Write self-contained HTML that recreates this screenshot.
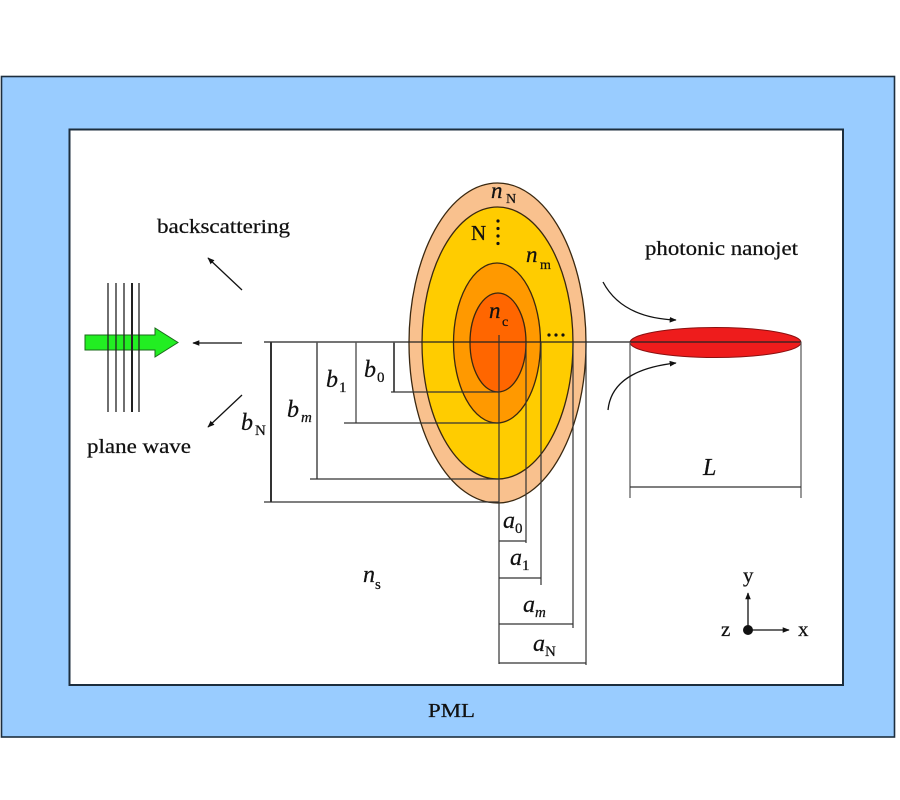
<!DOCTYPE html>
<html><head><meta charset="utf-8"><style>
html,body{margin:0;padding:0;background:#fff;}
svg{display:block;}
text{font-family:"Liberation Serif",serif;fill:#111;stroke:#111;stroke-width:0.25;}
.it{font-style:italic;}
</style></head><body>
<svg width="900" height="800" viewBox="0 0 900 800" xmlns="http://www.w3.org/2000/svg">
<defs>
<marker id="ah" viewBox="0 0 10 10" refX="9" refY="5" markerWidth="7" markerHeight="7" orient="auto-start-reverse" markerUnits="userSpaceOnUse">
<path d="M0,1 L10,5 L0,9 z" fill="#111"/>
</marker>
</defs>
<!-- PML frame -->
<rect x="1.5" y="76.5" width="893" height="660.5" fill="#99CCFF" stroke="#1d2e3e" stroke-width="1.6"/>
<rect x="69.5" y="129.5" width="773.5" height="555.5" fill="#fff" stroke="#1d2e3e" stroke-width="2"/>
<text x="428" y="717" font-size="20" textLength="47" lengthAdjust="spacingAndGlyphs">PML</text>

<!-- ellipses -->
<ellipse cx="497.5" cy="343" rx="88.5" ry="160" fill="#F9C18E" stroke="#3a2810" stroke-width="1.3"/>
<ellipse cx="497.5" cy="343" rx="75.5" ry="136" fill="#FFCC00" stroke="#3a2810" stroke-width="1.3"/>
<ellipse cx="497" cy="343" rx="43.5" ry="80" fill="#FF9900" stroke="#3a2810" stroke-width="1.3"/>
<ellipse cx="498" cy="342.5" rx="28" ry="49.5" fill="#FF6600" stroke="#3a2810" stroke-width="1.3"/>

<!-- red nanojet -->
<ellipse cx="715.5" cy="342.5" rx="85.5" ry="15" fill="#EE1C1C" stroke="#8a1010" stroke-width="1"/>

<!-- axis line -->
<line x1="264" y1="342" x2="801" y2="342" stroke="#222" stroke-width="1.2"/>

<!-- b dimension lines -->
<g stroke="#333" stroke-width="1.2" fill="none">
<line x1="271" y1="342" x2="271" y2="502" stroke-width="2"/>
<line x1="264" y1="502" x2="499" y2="502"/>
<line x1="317" y1="342" x2="317" y2="479" stroke="#555" stroke-width="1.6"/>
<line x1="310" y1="479" x2="499" y2="479"/>
<line x1="356" y1="342" x2="356" y2="423" stroke="#555" stroke-width="1.4"/>
<line x1="344" y1="423" x2="499" y2="423"/>
<line x1="394" y1="342" x2="394" y2="392" stroke="#555" stroke-width="2"/>
<line x1="391" y1="392" x2="499" y2="392"/>
<!-- a dimension lines -->
<line x1="499" y1="335" x2="499" y2="664"/>
<line x1="526" y1="342" x2="526" y2="543"/>
<line x1="499" y1="541" x2="526" y2="541"/>
<line x1="541" y1="342" x2="541" y2="585"/>
<line x1="499" y1="578" x2="541" y2="578"/>
<line x1="573" y1="342" x2="573" y2="628"/>
<line x1="499" y1="624" x2="573" y2="624"/>
<line x1="586" y1="342" x2="586" y2="665"/>
<line x1="499" y1="663" x2="586" y2="663"/>
<!-- L dimension -->
<line x1="630" y1="342" x2="630" y2="498" stroke="#555"/>
<line x1="801" y1="342" x2="801" y2="498" stroke="#555"/>
<line x1="630" y1="487" x2="801" y2="487"/>
</g>

<!-- left arrows -->
<g stroke="#111" stroke-width="1.3" fill="none">
<line x1="242" y1="290" x2="208" y2="258" marker-end="url(#ah)"/>
<line x1="242" y1="343" x2="193" y2="343" marker-end="url(#ah)"/>
<line x1="242" y1="395" x2="208" y2="427" marker-end="url(#ah)"/>
<path d="M603,282 Q622,318 676,320" marker-end="url(#ah)"/>
<path d="M608,410 Q612,370 676,363" marker-end="url(#ah)"/>
</g>

<!-- green arrow -->
<path d="M85,335 L155,335 L155,328 L178,342.5 L155,357 L155,350 L85,350 Z" fill="#22EE22" stroke="#1a6a1a" stroke-width="1"/>
<g stroke="#222" stroke-width="1.3">
<line x1="108" y1="283" x2="108" y2="412"/>
<line x1="116" y1="283" x2="116" y2="412"/>
<line x1="124" y1="283" x2="124" y2="412"/>
<line x1="132" y1="283" x2="132" y2="412" stroke-width="2"/>
<line x1="139" y1="283" x2="139" y2="412"/>
</g>

<!-- text labels -->
<text x="157" y="233" font-size="20" textLength="133" lengthAdjust="spacingAndGlyphs">backscattering</text>
<text x="87" y="453" font-size="20" textLength="104" lengthAdjust="spacingAndGlyphs">plane wave</text>
<text x="645" y="255" font-size="20" textLength="153" lengthAdjust="spacingAndGlyphs">photonic nanojet</text>

<!-- ellipse labels -->
<text x="491" y="198" font-size="23" class="it">n</text><text x="506" y="203" font-size="14">N</text>
<text x="471" y="240" font-size="21">N</text>
<g fill="#111"><circle cx="498" cy="221" r="1.6"/><circle cx="498" cy="228.5" r="1.6"/><circle cx="498" cy="236" r="1.6"/><circle cx="498" cy="243.5" r="1.6"/></g>
<text x="526" y="262" font-size="23" class="it">n</text><text x="540" y="269" font-size="14">m</text>
<text x="489" y="318" font-size="23" class="it">n</text><text x="502" y="326" font-size="14">c</text>
<g fill="#111"><circle cx="549" cy="335" r="1.6"/><circle cx="556" cy="335" r="1.6"/><circle cx="563" cy="335" r="1.6"/></g>

<!-- b labels -->
<text x="364" y="377" font-size="24" class="it">b</text><text x="377" y="382" font-size="15">0</text>
<text x="326" y="387" font-size="24" class="it">b</text><text x="339" y="392" font-size="15">1</text>
<text x="287" y="417" font-size="24" class="it">b</text><text x="301" y="422" font-size="15" class="it">m</text>
<text x="241" y="430" font-size="24" class="it">b</text><text x="255" y="435" font-size="15">N</text>

<!-- a labels -->
<text x="503" y="528" font-size="24" class="it">a</text><text x="515" y="533" font-size="15">0</text>
<text x="510" y="565" font-size="24" class="it">a</text><text x="522" y="570" font-size="15">1</text>
<text x="523" y="612" font-size="24" class="it">a</text><text x="535" y="617" font-size="15" class="it">m</text>
<text x="533" y="651" font-size="24" class="it">a</text><text x="545" y="656" font-size="15">N</text>

<text x="363" y="582" font-size="24" class="it">n</text><text x="375" y="589" font-size="15">s</text>
<text x="703" y="475" font-size="24" class="it">L</text>

<!-- axes -->
<circle cx="748" cy="630" r="5" fill="#111"/>
<line x1="748" y1="630" x2="748" y2="593" stroke="#111" stroke-width="1.3" marker-end="url(#ah)"/>
<line x1="748" y1="630" x2="789" y2="630" stroke="#111" stroke-width="1.3" marker-end="url(#ah)"/>
<text x="743" y="582" font-size="21">y</text>
<text x="721" y="636" font-size="21">z</text>
<text x="798" y="636" font-size="21">x</text>
</svg>
</body></html>
